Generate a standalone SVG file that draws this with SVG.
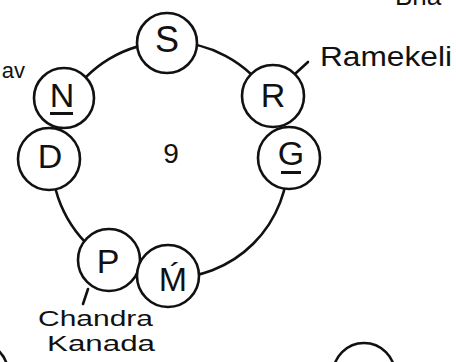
<svg xmlns="http://www.w3.org/2000/svg" width="456" height="362" viewBox="0 0 456 362">
<style>
.node circle{fill:#fff;stroke:#111;stroke-width:2.6}
.conn path,.conn line{fill:none;stroke:#111;stroke-width:2.6;stroke-linecap:round}
text{font-family:"Liberation Sans","DejaVu Sans",sans-serif;fill:#111}
.big{font-size:34px;text-anchor:middle}
.lab{font-size:22px}
.ul{fill:#111}
</style>
<rect width="456" height="362" fill="#fff"/>
<g id="connectors" class="conn">
<path d="M165.9,42.1 A118,118 0 0 1 270.1,97.5"/>
<path d="M67.8,101 A118,118 0 0 1 165.9,42.1"/>
<path d="M52,160 A118,118 0 0 0 109.2,261.1"/>
<path d="M167.9,278 A118,118 0 0 0 288,157.9"/>
<line x1="296" y1="73" x2="308" y2="62"/>
<line x1="88" y1="289" x2="83" y2="304"/>
</g>
<g id="node-S" class="node"><circle cx="167" cy="43" r="30"/><text class="big" x="167" y="52" style="font-size:36px">S</text></g>
<g id="node-R" class="node"><circle cx="273" cy="96" r="31"/><text class="big" x="273" y="107">R</text></g>
<g id="node-G" class="node"><circle cx="289" cy="158" r="31"/><text class="big" x="291" y="165">G</text><rect class="ul" x="281" y="171" width="20" height="3"/></g>
<g id="node-N" class="node"><circle cx="64" cy="98" r="30"/><text class="big" x="62" y="107">N</text><rect class="ul" x="50" y="112" width="23" height="3"/></g>
<g id="node-D" class="node"><circle cx="49" cy="159" r="31"/><text class="big" x="50" y="168">D</text></g>
<g id="node-P" class="node"><circle cx="109" cy="260" r="31"/><text class="big" x="108" y="273">P</text></g>
<g id="node-M" class="node"><circle cx="168" cy="276" r="31"/><text class="big" x="173" y="291">Ḿ</text></g>
<g id="node-partial-left" class="node"><circle cx="-23" cy="373" r="31"/></g>
<g id="node-partial-right" class="node"><circle cx="364" cy="374" r="31"/></g>
<g id="labels">
<text x="171" y="163" style="font-size:28px;text-anchor:middle">9</text>
<text x="320" y="66" textLength="132" lengthAdjust="spacingAndGlyphs" style="font-size:27px">Ramekeli</text>
<text class="lab" x="38" y="326" textLength="115" lengthAdjust="spacingAndGlyphs">Chandra</text>
<text class="lab" x="47" y="351" textLength="108" lengthAdjust="spacingAndGlyphs">Kanada</text>
<text x="25" y="78" style="text-anchor:end;font-size:22px">av</text>
<text x="395" y="5" style="font-size:26px">Bha</text>
</g>
</svg>
